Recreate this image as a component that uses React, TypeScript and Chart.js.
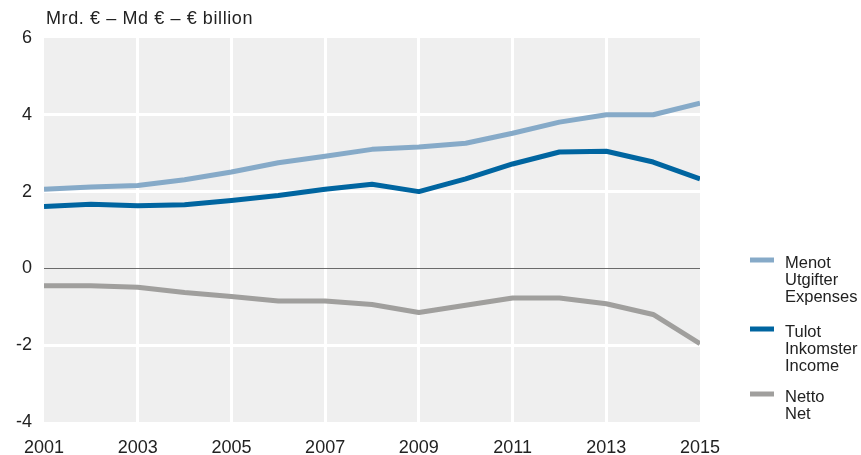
import React, { useEffect, useRef } from "react";
import { Chart, registerables } from "chart.js";

Chart.register(...registerables);

const years = [2001, 2002, 2003, 2004, 2005, 2006, 2007, 2008, 2009, 2010, 2011, 2012, 2013, 2014, 2015];
const expenses = [2.06, 2.12, 2.16, 2.31, 2.51, 2.75, 2.92, 3.1, 3.16, 3.26, 3.52, 3.81, 4.0, 4.0, 4.3];
const income = [1.61, 1.67, 1.63, 1.66, 1.77, 1.9, 2.06, 2.19, 2.0, 2.33, 2.72, 3.03, 3.05, 2.77, 2.33];
const net = [-0.45, -0.45, -0.49, -0.63, -0.73, -0.85, -0.85, -0.94, -1.15, -0.96, -0.77, -0.77, -0.92, -1.2, -1.96];

const seriesNames = ["Menot / Utgifter / Expenses", "Tulot / Inkomster / Income", "Netto / Net"];
const legendLines = [
  ["Menot", "Utgifter", "Expenses"],
  ["Tulot", "Inkomster", "Income"],
  ["Netto", "Net"],
];
const colors = ["#86aac8", "#0065a0", "#a09f9d"];
const unitTitle = "Mrd. € – Md € – € billion";

const FONT = "'Liberation Sans', Arial, Helvetica, sans-serif";
const TEXT = "#222222";

export default function App() {
  const ref = useRef<HTMLCanvasElement | null>(null);

  useEffect(() => {
    document.body.style.margin = "0";
    const canvas = ref.current;
    if (!canvas) return;

    const bgPlugin = {
      id: "bg",
      beforeDraw(chart: any) {
        const { ctx, chartArea } = chart;
        ctx.save();
        ctx.fillStyle = "#efefef";
        ctx.fillRect(chartArea.left, chartArea.top, chartArea.right - chartArea.left, chartArea.bottom - chartArea.top);
        ctx.restore();
      },
    };

    const decorPlugin = {
      id: "decor",
      afterDraw(chart: any) {
        const { ctx } = chart;
        ctx.save();
        ctx.fillStyle = TEXT;
        ctx.textBaseline = "middle";
        ctx.textAlign = "left";
        ctx.font = `18px ${FONT}`;
        try {
          (ctx as any).letterSpacing = "0.6px";
        } catch (e) {}
        ctx.fillText(unitTitle, 46, 19);
        try {
          (ctx as any).letterSpacing = "0px";
        } catch (e) {}

        ctx.font = `16.5px ${FONT}`;
        const starts = [263, 332, 397];
        legendLines.forEach((lines, i) => {
          const y0 = starts[i];
          ctx.strokeStyle = colors[i];
          ctx.lineWidth = 5;
          ctx.beginPath();
          ctx.moveTo(750, y0 - 3);
          ctx.lineTo(774, y0 - 3);
          ctx.stroke();
          lines.forEach((t, j) => {
            ctx.fillText(t, 785, y0 + j * 17);
          });
        });
        ctx.restore();
      },
    };

    const mk = (vals: number[], i: number) => ({
      label: seriesNames[i],
      data: years.map((x, k) => ({ x, y: vals[k] })),
      borderColor: colors[i],
      backgroundColor: colors[i],
      borderWidth: 5,
      pointRadius: 0,
      tension: 0,
      borderJoinStyle: "round" as const,
      fill: false,
    });

    const chart = new Chart(canvas, {
      type: "line",
      data: {
        datasets: [mk(net, 2), mk(income, 1), mk(expenses, 0)],
      },
      options: {
        animation: false,
        responsive: false,
        maintainAspectRatio: false,
        layout: { padding: { left: 0, right: 161, top: 38, bottom: 0 } },
        plugins: {
          legend: { display: false },
          tooltip: { enabled: false },
          title: { display: false },
        },
        scales: {
          x: {
            type: "linear",
            min: 2001,
            max: 2015,
            border: { display: false },
            grid: {
              color: (c: any) => (c.tick && (c.tick.value === 2001 || c.tick.value === 2015) ? "rgba(0,0,0,0)" : "#ffffff"),
              lineWidth: 3,
              drawTicks: false,
            },
            ticks: {
              stepSize: 2,
              padding: 15,
              color: TEXT,
              font: { family: FONT, size: 18 },
              maxRotation: 0,
              callback: (v: any) => String(v),
            },
            afterFit: (s: any) => {
              s.height = 33;
            },
          },
          y: {
            min: -4,
            max: 6,
            border: { display: false },
            grid: {
              color: (c: any) => (c.tick && c.tick.value === 0 ? "#6a6a6a" : c.tick && (c.tick.value === 6 || c.tick.value === -4) ? "rgba(0,0,0,0)" : "#ffffff"),
              lineWidth: (c: any) => (c.tick && c.tick.value === 0 ? 1 : 3),
              drawTicks: false,
              z: 0,
            },
            ticks: {
              stepSize: 2,
              padding: 12,
              color: TEXT,
              font: { family: FONT, size: 18 },
            },
            afterFit: (s: any) => {
              s.width = 44;
            },
          },
        },
      },
      plugins: [bgPlugin, decorPlugin],
    });

    return () => chart.destroy();
  }, []);

  return <canvas ref={ref} width={861} height={455} style={{ display: "block", width: 861, height: 455 }} />;
}
